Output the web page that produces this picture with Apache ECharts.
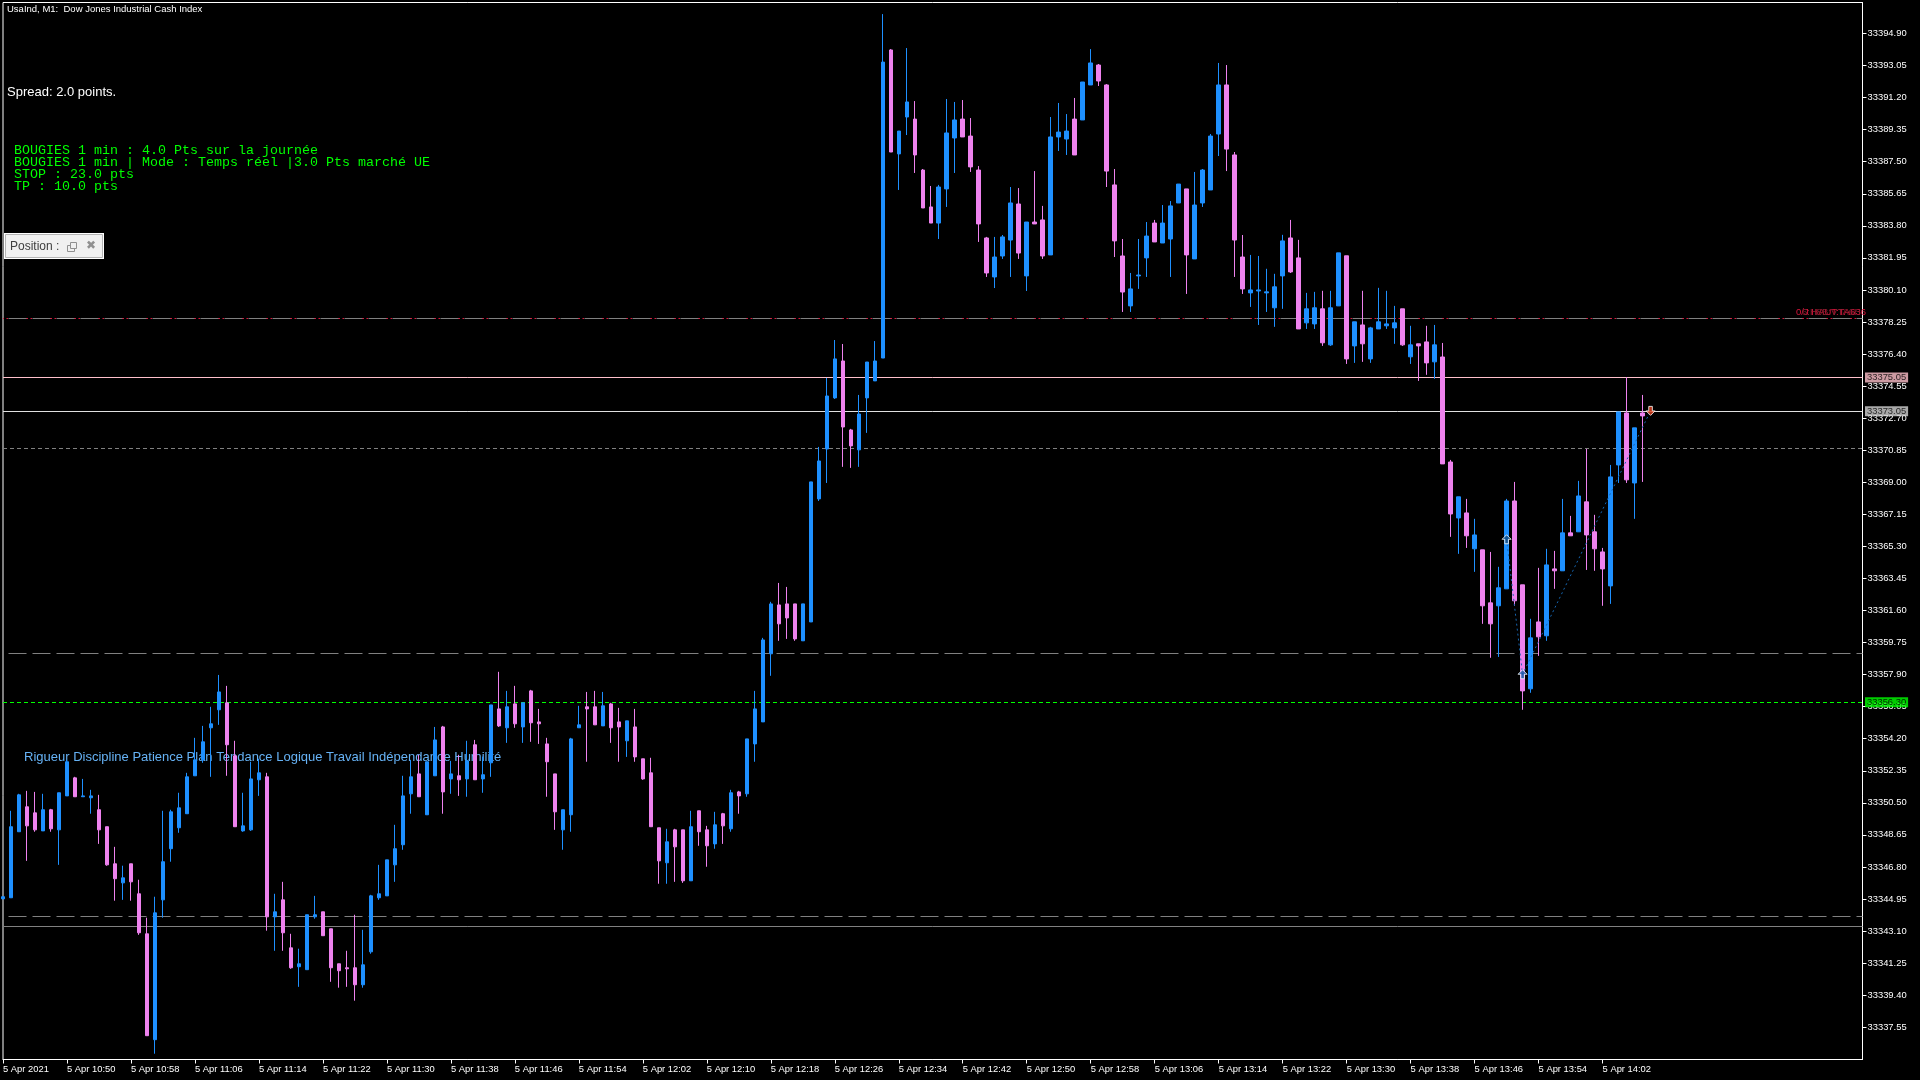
<!DOCTYPE html>
<html>
<head>
<meta charset="utf-8">
<title>UsaInd M1</title>
<style>
  html, body { margin: 0; padding: 0; background: #000; }
  #chart { width: 1920px; height: 1080px; }
</style>
<script src="https://cdn.jsdelivr.net/npm/echarts@6/dist/echarts.min.js"></script>
</head>
<body>
<div id="chart"></div>
<script>
// one row = 10 bars, first bar is 10:42
const opens = [
  33344.96,33345.02,33348.83,33350.27,33349.92,33348.88,33350.10,33348.94,33350.90,33351.94,
  33350.85,33350.79,33350.10,33349.12,33346.98,33345.88,33346.98,33345.25,33342.94,33336.83,
  33344.90,33347.85,33349.06,33349.87,33352.06,33352.98,33354.83,33355.87,33356.27,33353.21,
  33348.88,33348.94,33351.83,33352.00,33343.92,33344.90,33342.13,33341.04,33340.87,33343.92,
  33344.21,33343.23,33341.21,33340.98,33340.98,33340.00,33341.90,33345.02,33345.13,33346.92,
  33348.08,33351.02,33352.17,33349.81,33352.06,33354.88,33351.88,33352.06,33351.88,33353.85,
  33351.88,33352.81,33355.92,33354.83,33356.21,33354.88,33356.96,33355.17,33353.90,33352.17,
  33348.94,33349.81,33354.83,33356.04,33356.04,33354.94,33356.21,33355.17,33354.08,33354.88,
  33353.04,33352.23,33349.06,33347.04,33348.94,33348.94,33346.00,33350.04,33348.94,33348.13,
  33349.87,33349.00,33351.13,33351.02,33353.90,33355.17,33359.10,33361.92,33361.98,33361.98,
  33359.85,33360.94,33368.04,33370.92,33373.87,33376.00,33372.02,33370.87,33373.87,33374.85,
  33376.17,33393.95,33387.95,33390.08,33389.96,33387.02,33384.89,33383.96,33385.93,33388.87,
  33389.96,33388.98,33387.02,33383.10,33380.85,33382.06,33382.98,33385.06,33380.91,33384.02,
  33384.14,33382.12,33388.93,33388.81,33389.96,33389.91,33391.93,33393.08,33391.93,33386.16,
  33382.06,33379.18,33380.91,33381.95,33383.96,33382.81,33383.04,33385.12,33385.93,33381.89,
  33385.12,33385.87,33389.10,33391.93,33387.89,33382.00,33379.93,33380.04,33379.93,33379.07,
  33380.91,33383.10,33381.95,33378.20,33378.14,33379.01,33376.93,33379.18,33382.07,33376.87,
  33378.08,33376.12,33377.85,33378.03,33377.91,33379.01,33376.24,33376.99,33377.10,33375.95,
  33376.23,33370.17,33366.94,33367.23,33365.16,33365.10,33362.04,33361.87,33362.85,33367.92,
  33363.08,33357.08,33360.94,33360.14,33364.00,33363.89,33366.08,33366.14,33367.87,33366.14,
  33364.98,33363.02,33370.00,33373.00,33368.96,33373.00
];
const closes = [
  33345.08,33349.12,33350.96,33349.17,33348.94,33350.10,33349.00,33351.08,33352.87,33350.85,
  33350.90,33350.90,33348.94,33346.92,33346.12,33346.17,33345.94,33343.00,33337.06,33344.15,
  33347.10,33349.98,33350.21,33352.00,33352.98,33354.02,33355.06,33356.90,33353.85,33349.12,
  33349.17,33351.88,33352.23,33343.92,33344.21,33343.00,33340.98,33341.21,33344.04,33344.04,
  33342.83,33340.98,33340.81,33340.92,33340.00,33341.15,33345.13,33345.25,33347.21,33347.85,
  33350.90,33352.00,33350.85,33352.87,33354.13,33351.13,33352.17,33351.83,33352.92,33351.83,
  33352.12,33356.15,33354.94,33356.04,33355.06,33356.27,33355.12,33355.06,33352.87,33349.98,
  33350.10,33354.19,33355.00,33355.92,33355.00,33356.10,33354.83,33354.88,33355.23,33353.15,
  33351.88,33349.12,33347.15,33348.25,33347.96,33346.00,33349.12,33348.83,33348.02,33349.23,
  33349.17,33351.08,33350.90,33354.19,33355.92,33359.90,33361.98,33360.83,33361.17,33359.96,
  33361.98,33369.02,33370.23,33373.98,33376.12,33372.19,33371.10,33372.94,33375.94,33376.00,
  33393.25,33388.06,33389.27,33390.95,33387.89,33384.83,33383.96,33386.04,33389.16,33389.91,
  33388.93,33387.20,33383.91,33381.08,33382.00,33383.16,33385.12,33382.23,33384.02,33383.91,
  33382.06,33388.93,33389.21,33389.27,33387.89,33392.10,33393.20,33392.16,33386.96,33382.93,
  33379.98,33380.16,33380.96,33383.21,33382.87,33383.96,33384.95,33386.21,33382.12,33385.00,
  33387.02,33388.98,33391.93,33388.23,33382.98,33380.16,33380.10,33380.10,33379.99,33380.28,
  33382.93,33381.14,33377.85,33379.01,33379.07,33377.05,33379.07,33382.24,33376.12,33378.26,
  33376.99,33377.91,33378.26,33378.14,33378.20,33376.93,33376.93,33376.87,33375.89,33376.93,
  33370.06,33367.17,33368.16,33365.91,33365.96,33361.87,33360.83,33362.91,33367.92,33362.16,
  33356.96,33360.02,33360.08,33364.23,33363.89,33366.08,33365.91,33368.21,33365.96,33365.16,
  33364.00,33369.31,33373.06,33369.14,33372.14,33372.83
];
const lows = [
  33344.96,33345.02,33348.83,33347.15,33348.83,33348.88,33348.83,33346.92,33350.90,33350.85,
  33350.85,33349.87,33348.13,33346.87,33344.85,33344.90,33344.85,33342.88,33337.06,33336.02,
  33343.87,33347.10,33348.77,33349.87,33352.06,33352.81,33352.00,33355.00,33352.06,33349.12,
  33348.83,33348.88,33350.90,33343.12,33341.96,33341.96,33340.92,33339.88,33340.87,33343.81,
  33342.83,33340.17,33339.83,33339.88,33339.08,33339.83,33341.79,33344.90,33345.13,33345.94,
  33347.79,33349.87,33350.85,33349.81,33352.06,33349.87,33351.02,33350.90,33350.85,33351.83,
  33351.08,33352.00,33354.88,33353.96,33354.83,33353.96,33354.02,33353.90,33350.85,33348.94,
  33347.79,33348.83,33354.83,33352.87,33355.00,33354.94,33353.96,33352.87,33353.15,33352.87,
  33351.83,33349.12,33345.83,33345.83,33345.94,33345.88,33346.00,33348.02,33346.81,33347.85,
  33348.13,33348.83,33349.87,33350.85,33352.87,33355.17,33357.83,33359.85,33359.96,33359.85,
  33359.85,33360.94,33367.92,33368.96,33373.81,33369.89,33369.83,33369.89,33371.85,33374.85,
  33376.17,33388.06,33385.87,33389.04,33386.85,33384.83,33383.96,33383.04,33384.89,33386.85,
  33388.93,33386.91,33382.87,33380.85,33380.21,33381.89,33380.85,33381.89,33380.04,33383.91,
  33381.89,33382.12,33388.12,33387.89,33387.89,33389.91,33391.93,33391.87,33386.04,33382.00,
  33378.83,33378.83,33380.16,33380.85,33382.87,33382.81,33380.85,33385.12,33379.87,33381.89,
  33384.89,33385.87,33387.83,33386.96,33380.85,33379.87,33379.12,33378.08,33378.83,33377.97,
  33379.01,33381.08,33377.85,33377.85,33377.85,33376.87,33376.87,33379.18,33375.83,33375.89,
  33375.95,33375.89,33377.85,33377.85,33376.99,33376.87,33375.83,33374.85,33375.20,33374.97,
  33370.06,33365.85,33364.87,33365.21,33363.83,33360.83,33358.87,33358.92,33362.85,33361.87,
  33355.87,33356.85,33358.98,33359.85,33362.85,33363.89,33365.91,33366.14,33363.94,33363.89,
  33361.87,33361.98,33368.96,33368.96,33366.89,33369.02
];
const highs = [
  33345.08,33350.04,33351.02,33351.19,33351.13,33351.02,33350.15,33351.08,33352.98,33352.00,
  33351.88,33351.25,33350.96,33349.12,33347.96,33346.87,33346.98,33346.06,33343.87,33345.08,
  33350.04,33350.10,33351.08,33352.23,33354.25,33354.94,33356.04,33357.88,33357.25,33354.08,
  33351.08,33352.87,33353.04,33352.23,33345.25,33345.94,33342.94,33342.08,33344.04,33345.13,
  33344.21,33343.23,33341.21,33341.96,33344.04,33343.17,33345.19,33346.92,33347.21,33349.23,
  33352.06,33352.98,33353.27,33352.87,33354.88,33354.94,33352.92,33353.27,33354.08,33354.13,
  33353.17,33356.15,33358.06,33356.96,33357.25,33356.27,33357.02,33355.92,33354.25,33352.17,
  33350.10,33354.25,33356.10,33356.90,33356.96,33356.90,33356.27,33355.98,33355.23,33355.92,
  33353.04,33353.10,33349.06,33349.00,33349.00,33348.94,33350.04,33350.04,33349.17,33349.98,
  33349.92,33351.25,33351.19,33354.19,33356.96,33360.02,33362.10,33363.19,33362.96,33361.98,
  33361.98,33369.02,33371.04,33375.02,33377.21,33376.98,33372.08,33374.04,33375.94,33377.15,
  33396.02,33394.00,33389.27,33394.06,33391.00,33387.08,33386.10,33386.16,33391.12,33390.95,
  33391.06,33390.02,33387.25,33383.16,33383.16,33383.27,33386.04,33385.98,33384.02,33386.96,
  33384.95,33390.08,33390.89,33390.25,33391.18,33392.10,33394.00,33393.14,33391.98,33387.08,
  33383.04,33381.08,33383.04,33384.02,33384.14,33385.00,33385.23,33386.21,33385.93,33386.91,
  33387.08,33389.10,33393.20,33393.08,33388.06,33383.27,33382.12,33382.06,33381.32,33381.03,
  33383.28,33384.14,33382.99,33379.93,33379.99,33380.05,33380.05,33382.24,33382.07,33378.26,
  33380.05,33377.97,33380.22,33380.05,33379.18,33379.01,33378.03,33376.99,33378.03,33378.08,
  33377.04,33370.29,33368.16,33368.04,33366.89,33365.10,33364.98,33364.12,33368.04,33369.02,
  33363.08,33361.12,33364.06,33365.16,33365.04,33368.04,33367.06,33369.08,33370.92,33367.12,
  33365.21,33370.00,33373.06,33375.06,33372.14,33374.04
];

const timeLabels = [
  '5 Apr 2021','5 Apr 10:50','5 Apr 10:58','5 Apr 11:06','5 Apr 11:14','5 Apr 11:22','5 Apr 11:30',
  '5 Apr 11:38','5 Apr 11:46','5 Apr 11:54','5 Apr 12:02','5 Apr 12:10','5 Apr 12:18','5 Apr 12:26',
  '5 Apr 12:34','5 Apr 12:42','5 Apr 12:50','5 Apr 12:58','5 Apr 13:06','5 Apr 13:14','5 Apr 13:22',
  '5 Apr 13:30','5 Apr 13:38','5 Apr 13:46','5 Apr 13:54','5 Apr 14:02'
];
const timeTicks = [0,8,16,24,32,40,48,56,64,72,80,88,96,104,112,120,128,136,144,152,160,168,176,184,192,200];
const priceTicks = [
  33337.55,33339.40,33341.25,33343.10,33344.95,33346.80,33348.65,33350.50,33352.35,33354.20,33356.05,
  33357.90,33359.75,33361.60,33363.45,33365.30,33367.15,33369.00,33370.85,33372.70,33374.55,33376.40,
  33378.25,33380.10,33381.95,33383.80,33385.65,33387.50,33389.35,33391.20,33393.05,33394.90
];

const resistLevel = 33378.45;
const pinkLevel = 33375.05;
const whiteLevel = 33373.10;
const dotLevel = 33370.95;
const midDashLevel = 33359.12;
const greenLevel = 33356.30;
const lowDashLevel = 33343.95;
const lowSolidLevel = 33343.37;

// texts of the tags next to the axis
const pinkTag = '33375.05';
const whiteTag = '33373.05';
const greenTag = '33356.30';

// trades: buy, buy, sell
const tradeBars = [188, 190, 206];
const tradePrices = [33365.71, 33357.92, 33373.12];

const candles = opens.map((o, i) => [i, o, closes[i], lows[i], highs[i]]);

const BLUE = '#1e90ff';
const VIOLET = '#ee82ee';
const TICK_FONT = { color: '#fff', fontFamily: 'Liberation Sans', fontSize: 9.4 };
const ARROW = 'path://M5 0 L10 5 L7 5 L7 10 L3 10 L3 5 L0 5 Z';

const chart = echarts.init(document.getElementById('chart'), null, { renderer: 'canvas' });

function level(value, color, type, dashOffset) {
  return { yAxis: value, lineStyle: { color, width: 1, type, dashOffset: dashOffset || 0 } };
}

function tag(value, text, bg) {
  return {
    value: [232.5, value],
    label: {
      show: true, position: 'right', distance: 2, color: '#000', backgroundColor: bg,
      padding: [1, 2, 0, 2], fontFamily: 'Liberation Sans', fontSize: 9.4,
      formatter: () => text,
    },
  };
}

function trade(i, symbolRotate, fill) {
  return {
    value: [tradeBars[i], tradePrices[i]],
    symbolRotate,
    itemStyle: { color: fill, borderColor: '#fff', borderWidth: 1 },
  };
}

chart.setOption({
  animation: false,
  backgroundColor: '#000',
  grid: {
    show: true, left: 2.5, top: 2.5, width: 1860, height: 1057,
    borderColor: '#fff', borderWidth: 1, backgroundColor: '#000',
  },
  xAxis: {
    type: 'value',
    min: 0,
    max: 232.5,
    splitLine: { show: false },
    axisLine: { show: true, onZero: false, lineStyle: { color: '#fff', width: 1 } },
    axisTick: { show: true, length: 4, lineStyle: { color: '#fff' }, customValues: timeTicks },
    axisLabel: {
      ...TICK_FONT, align: 'left', margin: 5, customValues: timeTicks,
      formatter: v => timeLabels[timeTicks.indexOf(v)] || '',
    },
  },
  yAxis: {
    type: 'value',
    position: 'right',
    min: 33335.686,
    max: 33396.689,
    splitLine: { show: false },
    axisLine: { show: true, onZero: false, lineStyle: { color: '#fff', width: 1 } },
    axisTick: { show: true, length: 4, lineStyle: { color: '#fff' }, customValues: priceTicks },
    axisLabel: {
      ...TICK_FONT, margin: 5, customValues: priceTicks,
      formatter: v => v.toFixed(2),
    },
  },
  series: [
    {
      type: 'line',
      data: [],
      z: 1,
      markLine: {
        z: 1,
        silent: true,
        symbol: 'none',
        label: { show: false },
        data: [
          level(resistLevel, '#808080', [18.5, 5.5], 18.5),
          level(resistLevel, '#dc143c', [1.5, 2.5, 1.5, 18.5], 0.5),
          level(pinkLevel, '#ffc0cb', 'solid'),
          level(whiteLevel, '#e0e0e0', 'solid'),
          level(dotLevel, '#808080', [4, 3]),
          level(midDashLevel, '#808080', [18, 6], 18.5),
          level(greenLevel, '#00ff00', [4, 3]),
          level(lowDashLevel, '#808080', [18, 6], 18.5),
          level(lowSolidLevel, '#808080', 'solid'),
        ],
      },
    },
    {
      type: 'candlestick',
      data: candles,
      barWidth: 4,
      z: 3,
      itemStyle: { color: BLUE, color0: VIOLET, borderColor: BLUE, borderColor0: VIOLET, borderWidth: 1 },
    },
    {
      type: 'line',
      z: 4,
      symbol: 'none',
      lineStyle: { color: '#1565b0', width: 1, type: [2, 3] },
      data: [[tradeBars[0], tradePrices[0]], [tradeBars[1], tradePrices[1]], [tradeBars[2], tradePrices[2]]],
    },
    {
      type: 'scatter',
      z: 5,
      symbol: ARROW,
      symbolSize: 9,
      data: [trade(0, 0, '#114a80'), trade(1, 0, '#0b5ba8'), trade(2, 180, '#e0401c')],
    },
    {
      type: 'scatter',
      z: 20,
      clip: false,
      symbolSize: 1,
      itemStyle: { color: 'transparent' },
      data: [tag(pinkLevel, pinkTag, '#ffc0cb'), tag(whiteLevel, whiteTag, '#d3d3d3'), tag(greenLevel, greenTag, '#00ff00')],
    },
  ],
  graphic: [
    { type: 'text', z: 1, x: 24, y: 750.5, style: { text: 'Rigueur Discipline Patience Plan Tendance Logique Travail Indépendance Humilité', fill: '#66b2f5', font: '13px "Liberation Sans"' } },
    { type: 'text', z: 30, x: 7, y: 4.5, style: { text: 'UsaInd, M1:  Dow Jones Industrial Cash Index', fill: '#fff', font: '9.5px "Liberation Sans"' } },
    { type: 'text', z: 30, x: 7, y: 85.5, style: { text: 'Spread: 2.0 points.', fill: '#fff', font: '13px "Liberation Sans"' } },
    { type: 'text', z: 30, x: 14, y: 144, style: { text: 'BOUGIES 1 min : 4.0 Pts sur la journée', fill: '#00ff00', font: '13.33px "Liberation Mono"' } },
    { type: 'text', z: 30, x: 14, y: 156, style: { text: 'BOUGIES 1 min | Mode : Temps réel |3.0 Pts marché UE', fill: '#00ff00', font: '13.33px "Liberation Mono"' } },
    { type: 'text', z: 30, x: 14, y: 168, style: { text: 'STOP : 23.0 pts', fill: '#00ff00', font: '13.33px "Liberation Mono"' } },
    { type: 'text', z: 30, x: 14, y: 180, style: { text: 'TP : 10.0 pts', fill: '#00ff00', font: '13.33px "Liberation Mono"' } },
    // position panel
    { type: 'rect', z: 30, shape: { x: 4, y: 233, width: 100, height: 26 }, style: { fill: '#fff' } },
    { type: 'rect', z: 31, shape: { x: 5.5, y: 234.5, width: 97, height: 23 }, style: { fill: '#f0f0f0', stroke: '#b4b4b4', lineWidth: 1 } },
    { type: 'text', z: 32, x: 10, y: 241, style: { text: 'Position :', fill: '#404040', font: '12px "Liberation Sans"' } },
    { type: 'rect', z: 32, shape: { x: 67.5, y: 245.5, width: 7, height: 6 }, style: { fill: '#f0f0f0', stroke: '#909090', lineWidth: 1 } },
    { type: 'rect', z: 33, shape: { x: 70.5, y: 242.5, width: 6, height: 6 }, style: { fill: '#f0f0f0', stroke: '#909090', lineWidth: 1 } },
    { type: 'text', z: 32, x: 86, y: 240, style: { text: '✖', fill: '#909090', font: 'bold 12px "DejaVu Sans"' } },
    // overlapped level labels at the right edge
    { type: 'text', z: 2, x: 1796, y: 307, style: { text: '0/J HAUT:TA636', fill: '#dc143c', font: '9.5px "Liberation Sans"' } },
    { type: 'text', z: 2, x: 1802, y: 307, style: { text: '6:H8B:VTA6H', fill: '#8a2030', font: '9.5px "Liberation Sans"' } },
  ],
});
</script>
</body>
</html>
